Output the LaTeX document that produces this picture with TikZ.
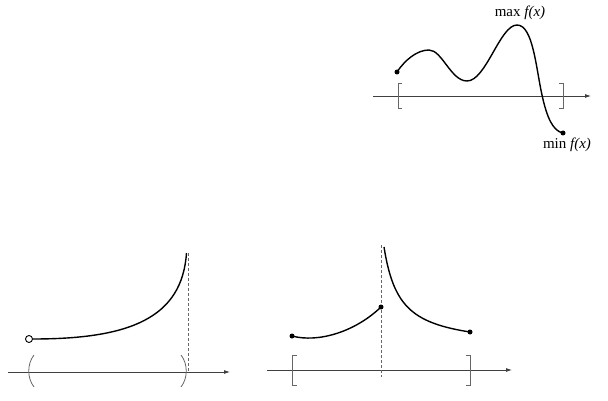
\documentclass[tikz,border=0pt]{standalone}
\usepackage{fontspec}
\setmainfont{Liberation Serif}
\usetikzlibrary{arrows.meta}
\begin{document}
\begin{tikzpicture}[x=1pt,y=-1pt,
  axis/.style={line width=0.8pt,black!75,-{Latex[length=6pt,width=4pt]}},
  curve/.style={line width=1.4pt},
  brk/.style={line width=0.8pt,black!60},
  asym/.style={line width=0.8pt,black!60,dash pattern=on 3pt off 2pt},
  dot/.style={circle,fill,inner sep=0pt,minimum size=5pt},
  odot/.style={circle,draw,fill=white,line width=0.9pt,inner sep=0pt,minimum size=7pt},
  lbl/.style={font=\fontsize{15}{17}\selectfont,inner sep=0pt}]
\useasboundingbox (0,0) rectangle (608,401);
% ---- top graph ----
\coordinate (ta0) at (373,96);
\coordinate (ta1) at (591,96);
\draw[axis] (ta0) -- (ta1);
\draw[brk] (402,83) -- (398,83) -- (398,108) -- (402,108);
\draw[brk] (559,83) -- (563,83) -- (563,108) -- (559,108);
\node[dot] (s) at (397,72) {};
\node[dot] (e) at (563,133) {};
\coordinate (p1) at (429,50);
\coordinate (m1) at (467,81);
\coordinate (mx) at (517,25);
\coordinate (cr) at (542,95);
\draw[curve] (s.center) .. controls (405,60) and (417,50) .. (p1)
  .. controls (442,50) and (451,81) .. (m1)
  .. controls (486,81) and (500,25) .. (mx)
  .. controls (533,25) and (536,68) .. (cr)
  .. controls (547,118) and (553,131) .. (e.center);
\node[lbl] (maxl) at (520,13) {max \textit{f(x)}};
\node[lbl] (minl) at (567,145) {min \textit{f(x)}};
% ---- bottom left ----
\coordinate (la0) at (8,372);
\coordinate (la1) at (230,372);
\draw[axis] (la0) -- (la1);
\coordinate (lv0) at (188,253);
\coordinate (lv1) at (188,372);
\draw[asym] (lv0) -- (lv1);
\draw[brk] (34,355) .. controls (27,364) and (27,378) .. (34,387);
\draw[brk] (181,355) .. controls (188,364) and (188,378) .. (181,387);
\node[odot] (o) at (29,339) {};
\coordinate (ltop) at (186.5,253);
\draw[curve] (o.east) .. controls (130,339) and (182,318) .. (ltop);
% ---- bottom right ----
\coordinate (ra0) at (267,370);
\coordinate (ra1) at (512,370);
\draw[axis] (ra0) -- (ra1);
\coordinate (rv0) at (381,245);
\coordinate (rv1) at (381,377);
\draw[asym] (rv0) -- (rv1);
\draw[brk] (297,355) -- (292,355) -- (292,385) -- (297,385);
\draw[brk] (466,355) -- (470,355) -- (470,385) -- (466,385);
\node[dot] (r1) at (292,336) {};
\node[dot] (r2) at (381,307) {};
\node[dot] (r3) at (470,332) {};
\draw[curve] (r1.center) .. controls (318,343) and (355,332) .. (r2.center);
\draw[curve] plot[domain=384:470,samples=80] (\x,{332-1613*(1/(\x-368)-1/102)});
\end{tikzpicture}
\end{document}
